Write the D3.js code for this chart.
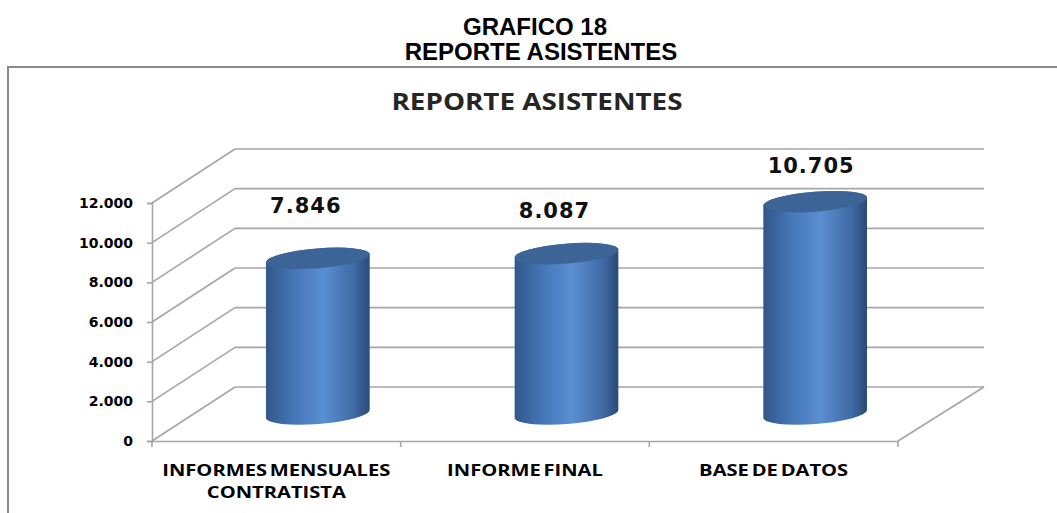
<!DOCTYPE html>
<html>
<head>
<meta charset="utf-8">
<script src="https://cdn.jsdelivr.net/npm/d3@7"></script>
<style>
  body { margin: 0; background: #fff; }
  svg { display: block; }
</style>
</head>
<body>
<div id="chart"></div>
<script>
// data
const categories = [["INFORMES MENSUALES", "CONTRATISTA"], ["INFORME FINAL"], ["BASE DE DATOS"]];
const values = [7846, 8087, 10705];
const valueLabels = ["7.846", "8.087", "10.705"];
const yTicks = [0, 2000, 4000, 6000, 8000, 10000, 12000];
const yTickLabels = ["0", "2.000", "4.000", "6.000", "8.000", "10.000", "12.000"];
// hand-placed label nudges (dx, dy from the cylinder top)
const labelNudge = [[-12, -45], [-12, -36], [-4, -29]];

const width = 1057, height = 513;
const depth = { x: 83, y: -54 };   // 3d back-wall offset

const svg = d3.select('#chart')
  .append('svg')
  .attr('width', width)
  .attr('height', height);

// titles above the chart box
svg.append('text')
  .text('GRAFICO 18')
  .attr('x', 535).attr('y', 35)
  .attr('text-anchor', 'middle')
  .style('font-family', 'Liberation Sans, Arial, sans-serif')
  .style('font-weight', 'bold')
  .style('font-size', '24px');
svg.append('text')
  .text('REPORTE ASISTENTES')
  .attr('x', 541).attr('y', 60)
  .attr('text-anchor', 'middle')
  .style('font-family', 'Liberation Sans, Arial, sans-serif')
  .style('font-weight', 'bold')
  .style('font-size', '24px');

// chart box border
svg.append('path')
  .attr('d', `M8,${height} L8,67 L${width},67`)
  .attr('fill', 'none')
  .attr('stroke', '#8a8a8a')
  .attr('stroke-width', 2);

svg.append('text')
  .text('REPORTE ASISTENTES')
  .attr('x', 537).attr('y', 110)
  .attr('text-anchor', 'middle')
  .attr('fill', '#262626')
  .attr('textLength', 291)
  .attr('lengthAdjust', 'spacingAndGlyphs')
  .style('font-family', 'Open Sans, sans-serif')
  .style('font-weight', 'bold')
  .style('font-size', '23px');

// scales
const x = d3.scaleBand()
  .domain(d3.range(categories.length))
  .range([152, 898])
  .padding(0);

const y = d3.scaleLinear()
  .domain([0, 12000])
  .range([441, 203]);

const grid = svg.append('g')
  .attr('stroke', '#a6a6a6')
  .attr('stroke-width', 1.6)
  .attr('fill', 'none');

// back wall lines
grid.selectAll('.back')
  .data(yTicks)
  .enter()
  .append('line')
  .attr('x1', x.range()[0] + depth.x)
  .attr('x2', x.range()[1] + depth.x + 3)
  .attr('y1', d => y(d) + depth.y)
  .attr('y2', d => y(d) + depth.y);

// side wall diagonals
grid.selectAll('.side')
  .data(yTicks)
  .enter()
  .append('line')
  .attr('x1', x.range()[0])
  .attr('x2', x.range()[0] + depth.x)
  .attr('y1', d => y(d))
  .attr('y2', d => y(d) + depth.y);

// floor right edge
grid.append('line')
  .attr('x1', x.range()[1])
  .attr('y1', y(0))
  .attr('x2', x.range()[1] + depth.x + 3)
  .attr('y2', y(0) + depth.y);

// y axis
const yAxis = svg.append('g')
  .attr('transform', `translate(${x.range()[0]},0)`)
  .call(d3.axisLeft(y).tickValues(yTicks).tickSize(5).tickPadding(14)
    .tickFormat((d, i) => yTickLabels[i]));
yAxis.select('.domain').attr('stroke', '#a6a6a6').attr('stroke-width', 1.6);
yAxis.selectAll('.tick line').attr('stroke', '#a6a6a6').attr('stroke-width', 1.6);
yAxis.selectAll('.tick text')
  .attr('fill', '#000')
  .style('font-family', 'DejaVu Sans, sans-serif')
  .style('font-weight', 'bold')
  .style('font-size', '14px');

// x axis
const xAxis = svg.append('g')
  .attr('transform', `translate(0,${y(0)})`)
  .call(d3.axisBottom(x).tickSize(0).tickFormat(''));
xAxis.select('.domain').attr('stroke', '#a6a6a6').attr('stroke-width', 1.6);
xAxis.selectAll('.tick').remove();
xAxis.selectAll('.cat-tick')
  .data(d3.range(categories.length + 1))
  .enter()
  .append('line')
  .attr('x1', i => x.range()[0] + i * x.bandwidth())
  .attr('x2', i => x.range()[0] + i * x.bandwidth())
  .attr('y1', 0).attr('y2', 6)
  .attr('stroke', '#a6a6a6')
  .attr('stroke-width', 1.6);

// category labels (the original is stretched sideways a bit)
const stretch = 1.22;
const catText = svg.append('g').selectAll('text')
  .data(categories)
  .enter()
  .append('text')
  .attr('x', (d, i) => x(i) + x.bandwidth() / 2)
  .attr('y', 476)
  .attr('text-anchor', 'middle')
  .attr('fill', '#000')
  .style('font-family', 'Open Sans, sans-serif')
  .style('font-weight', 'bold')
  .style('font-size', '16.5px')
  .style('word-spacing', '-2px');
catText.selectAll('tspan')
  .data(d => d)
  .enter()
  .append('tspan')
  .attr('x', function () { return d3.select(this.parentNode).attr('x'); })
  .attr('dy', (d, i) => i === 0 ? 0 : 22)
  .text(d => d)
  .each(function () {
    const w = this.getComputedTextLength();
    d3.select(this)
      .attr('textLength', w * stretch)
      .attr('lengthAdjust', 'spacingAndGlyphs');
  });

// cylinder shading
const defs = svg.append('defs');
const grad = defs.append('linearGradient')
  .attr('id', 'cyl')
  .attr('x1', '0%').attr('x2', '100%')
  .attr('y1', '0%').attr('y2', '0%');
grad.append('stop').attr('offset', '0%').attr('stop-color', '#30578a');
grad.append('stop').attr('offset', '25%').attr('stop-color', '#4474b4');
grad.append('stop').attr('offset', '55%').attr('stop-color', '#5a8fd2');
grad.append('stop').attr('offset', '85%').attr('stop-color', '#3f6aa5');
grad.append('stop').attr('offset', '100%').attr('stop-color', '#2b4a76');

const rx = 52, ry = 10, tilt = -4.5;
const t = tilt * Math.PI / 180;
const ex = rx * Math.cos(t), ey = rx * Math.sin(t);

function bodyPath(cx, yTop, yBot) {
  return `M${cx - ex},${yBot - ey}` +
    ` L${cx - ex},${yTop - ey}` +
    ` A${rx},${ry} ${tilt} 0 1 ${cx + ex},${yTop + ey}` +
    ` L${cx + ex},${yBot + ey}` +
    ` A${rx},${ry} ${tilt} 0 1 ${cx - ex},${yBot - ey} Z`;
}

const bars = svg.append('g').selectAll('g')
  .data(values)
  .enter()
  .append('g');

const cx = i => x(i) + x.bandwidth() / 2 + depth.x / 2;

bars.append('path')
  .attr('d', (d, i) => bodyPath(cx(i), y(d) + depth.y / 2, y(0) + depth.y / 2))
  .attr('fill', 'url(#cyl)');

bars.append('ellipse')
  .attr('cx', (d, i) => cx(i))
  .attr('cy', d => y(d) + depth.y / 2)
  .attr('rx', rx)
  .attr('ry', ry)
  .attr('transform', (d, i) => `rotate(${tilt},${cx(i)},${y(d) + depth.y / 2})`)
  .attr('fill', '#3d6496');

// value labels
svg.append('g').selectAll('text')
  .data(values)
  .enter()
  .append('text')
  .attr('x', (d, i) => cx(i) + labelNudge[i][0])
  .attr('y', (d, i) => y(d) + depth.y / 2 + labelNudge[i][1])
  .attr('text-anchor', 'middle')
  .attr('fill', '#111')
  .style('font-family', 'DejaVu Sans, sans-serif')
  .style('font-weight', 'bold')
  .style('font-size', '21px')
  .style('letter-spacing', '1px')
  .text((d, i) => valueLabels[i]);
</script>
</body>
</html>
